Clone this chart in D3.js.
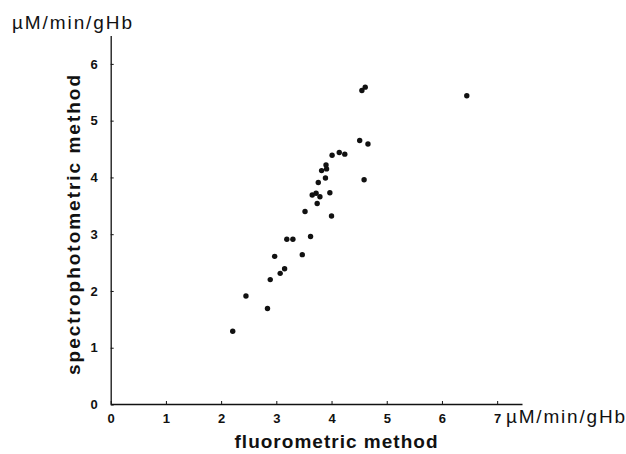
<!DOCTYPE html>
<html>
<head>
<meta charset="utf-8">
<script src="https://cdn.jsdelivr.net/npm/d3@7"></script>
<style>
  body { margin: 0; background: white; }
  svg { display: block; }
</style>
</head>
<body>
<div id="chart"></div>
<script>
// measured values, fluorometric (x) vs spectrophotometric (y), uM/min/gHb
var fluoro = [2.21, 2.45, 2.84, 2.89, 2.97, 3.07, 3.15, 3.19, 3.30, 3.47,
              3.62, 3.52, 3.74, 3.65, 3.72, 3.79, 3.97, 4.00, 3.76, 3.89,
              3.82, 3.91, 3.90, 4.01, 4.14, 4.24, 4.51, 4.66, 4.59, 4.55,
              4.61, 6.45];
var spectro = [1.29, 1.91, 1.69, 2.20, 2.61, 2.31, 2.39, 2.91, 2.91, 2.64,
               2.96, 3.40, 3.54, 3.69, 3.72, 3.66, 3.73, 3.32, 3.91, 3.99,
               4.12, 4.15, 4.22, 4.39, 4.44, 4.41, 4.65, 4.59, 3.96, 5.53,
               5.59, 5.44];
var xTicks = [0, 1, 2, 3, 4, 5, 6, 7];
var yTicks = [0, 1, 2, 3, 4, 5, 6];
var unitLabel = "\u00b5M/min/gHb";

var width = 626, height = 454;
var textFont = "'Liberation Sans', Arial, sans-serif";

var svg = d3.select("#chart").append("svg")
  .attr("width", width)
  .attr("height", height);

var x = d3.scaleLinear().domain([0, 7.45]).range([110.7, 522]);
var y = d3.scaleLinear().domain([0, 6.5]).range([404.5, 35.5]);

// x axis, ticks pointing inward
var xAxis = svg.append("g")
  .attr("transform", "translate(0,404)")
  .call(d3.axisBottom(x).tickValues(xTicks).tickFormat(d3.format("d"))
    .tickSize(-3).tickSizeOuter(0).tickPadding(10));

// y axis
var yAxis = svg.append("g")
  .attr("transform", "translate(110.7,0)")
  .call(d3.axisLeft(y).tickValues(yTicks).tickFormat(d3.format("d"))
    .tickSize(-3).tickSizeOuter(0).tickPadding(13));

[xAxis, yAxis].forEach(function(ax) {
  ax.select(".domain").attr("stroke", "#111").attr("stroke-width", 1.3);
  ax.selectAll(".tick line").attr("stroke", "#111");
  ax.selectAll(".tick text")
    .style("font-family", textFont)
    .style("font-weight", "bold")
    .style("font-size", "13px")
    .attr("fill", "#111");
});

// data points
svg.append("g").selectAll("circle")
  .data(fluoro)
  .enter().append("circle")
  .attr("cx", function(d) { return x(d); })
  .attr("cy", function(d, i) { return y(spectro[i]); })
  .attr("r", 2.7)
  .attr("fill", "#111");

// unit labels
svg.append("text")
  .attr("x", 12)
  .attr("y", 29)
  .attr("textLength", 120)
  .attr("lengthAdjust", "spacing")
  .style("font-family", textFont)
  .style("font-size", "19px")
  .attr("fill", "#111")
  .text(unitLabel);

svg.append("text")
  .attr("x", 506)
  .attr("y", 423)
  .attr("textLength", 119)
  .attr("lengthAdjust", "spacing")
  .style("font-family", textFont)
  .style("font-size", "19px")
  .attr("fill", "#111")
  .text(unitLabel);

// axis titles
svg.append("text")
  .attr("x", 336)
  .attr("y", 448)
  .attr("text-anchor", "middle")
  .attr("textLength", 203)
  .attr("lengthAdjust", "spacing")
  .style("font-family", textFont)
  .style("font-size", "19px")
  .style("font-weight", "bold")
  .attr("fill", "#111")
  .text("fluorometric  method");

svg.append("text")
  .attr("transform", "translate(80,225) rotate(-90)")
  .attr("text-anchor", "middle")
  .attr("textLength", 300)
  .attr("lengthAdjust", "spacing")
  .style("font-family", textFont)
  .style("font-size", "19px")
  .style("font-weight", "bold")
  .attr("fill", "#111")
  .text("spectrophotometric  method");
</script>
</body>
</html>
